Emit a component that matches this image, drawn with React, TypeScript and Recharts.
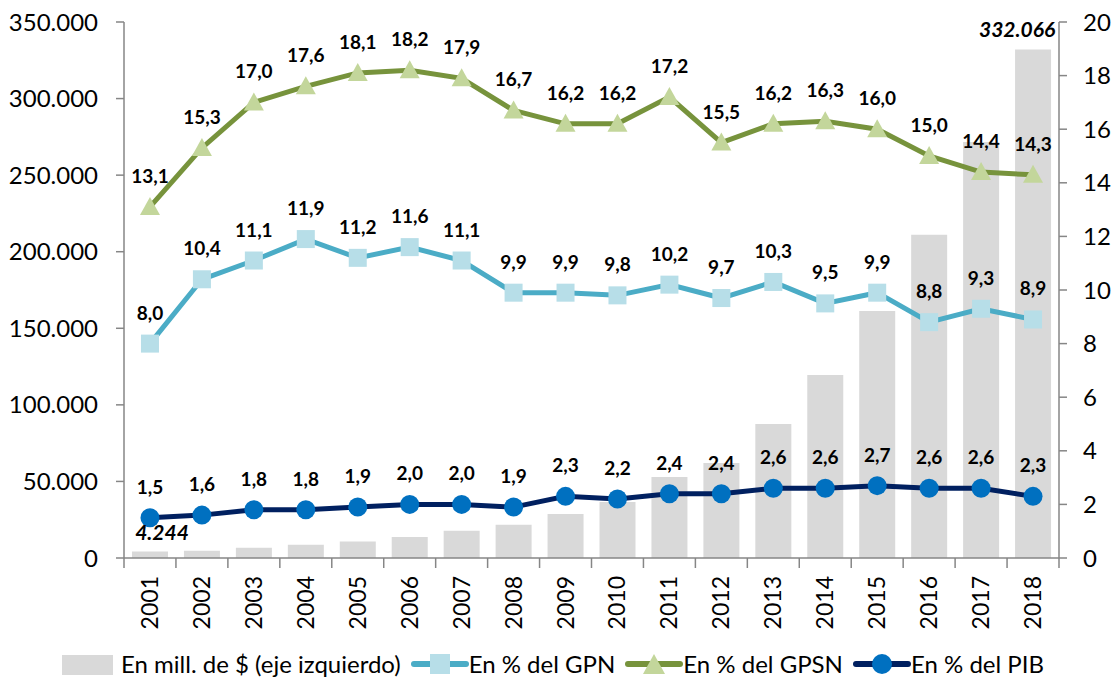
import { Bar, ComposedChart, LabelList, Line, XAxis, YAxis } from "recharts";

const anios = [
  "2001", "2002", "2003", "2004", "2005", "2006", "2007", "2008", "2009",
  "2010", "2011", "2012", "2013", "2014", "2015", "2016", "2017", "2018",
];
const enMillones = [
  4244, 4800, 6700, 8700, 10700, 13700, 17800, 21700, 28700,
  36600, 52900, 62000, 87500, 119500, 161300, 211000, 271600, 332066,
];
const enGPN = [8.0, 10.4, 11.1, 11.9, 11.2, 11.6, 11.1, 9.9, 9.9, 9.8, 10.2, 9.7, 10.3, 9.5, 9.9, 8.8, 9.3, 8.9];
const enGPSN = [13.1, 15.3, 17.0, 17.6, 18.1, 18.2, 17.9, 16.7, 16.2, 16.2, 17.2, 15.5, 16.2, 16.3, 16.0, 15.0, 14.4, 14.3];
const enPIB = [1.5, 1.6, 1.8, 1.8, 1.9, 2.0, 2.0, 1.9, 2.3, 2.2, 2.4, 2.4, 2.6, 2.6, 2.7, 2.6, 2.6, 2.3];
const ticksIzq = [0, 50000, 100000, 150000, 200000, 250000, 300000, 350000];
const ticksDer = [0, 2, 4, 6, 8, 10, 12, 14, 16, 18, 20];

const datos = anios.map((anio, i) => ({
  anio,
  millones: enMillones[i],
  gpn: enGPN[i],
  gpsn: enGPSN[i],
  pib: enPIB[i],
}));

const ANCHO = 1115;
const ALTO = 681;
const MARGEN = { top: 22, right: 6, left: 4, bottom: 63 };
const ANCHO_EJE_IZQ = 120;
const ANCHO_EJE_DER = 50;
const ANCHO_BANDA = (ANCHO - MARGEN.left - MARGEN.right - ANCHO_EJE_IZQ - ANCHO_EJE_DER) / anios.length;

const FUENTE = "Lato, 'Open Sans', sans-serif";
const GRIS_EJE = "#868686";

const C = {
  barra: "#D9D9D9",
  gpn: "#4BACC6",
  gpnMarca: "#B7DEE8",
  gpsn: "#77933C",
  gpsnMarca: "#C3D69B",
  pib: "#002060",
  pibMarca: "#0070C0",
};

const miles = (v: number) => v.toLocaleString("de-DE");
const coma = (v: number) => v.toFixed(1).replace(".", ",");

function Cuadrado({ cx, cy }: any) {
  if (cx == null || cy == null) return null;
  return <rect x={cx - 9} y={cy - 9} width={18} height={18} fill={C.gpnMarca} />;
}

function Triangulo({ cx, cy }: any) {
  if (cx == null || cy == null) return null;
  return (
    <polygon
      points={`${cx},${cy - 10} ${cx + 10},${cy + 8} ${cx - 10},${cy + 8}`}
      fill={C.gpsnMarca}
    />
  );
}

function Circulo({ cx, cy }: any) {
  if (cx == null || cy == null) return null;
  return <circle cx={cx} cy={cy} r={9.5} fill={C.pibMarca} />;
}

function EtiquetaLinea(props: any) {
  const { x, y, value } = props;
  if (x == null || y == null) return null;
  return (
    <text x={x} y={y - 24} textAnchor="middle" fontFamily={FUENTE} fontSize={19} fontWeight="bold" fill="#000">
      {coma(value)}
    </text>
  );
}

function EtiquetaBarra(props: any) {
  const { x, y, width, value, index } = props;
  if (index !== 0 && index !== anios.length - 1) return null;
  const dx = index === 0 ? 12 : -16;
  return (
    <text
      x={x + width / 2 + dx}
      y={y - 12}
      textAnchor="middle"
      fontFamily={FUENTE}
      fontSize={21}
      fontWeight="bold"
      fontStyle="italic"
      fill="#000"
    >
      {miles(value)}
    </text>
  );
}

function TickAnio({ x, y, payload, index }: any) {
  const mitad = ANCHO_BANDA / 2;
  return (
    <g>
      <line x1={x - mitad} y1={y - 8} x2={x - mitad} y2={y + 2} stroke={GRIS_EJE} strokeWidth={1.5} />
      {index === anios.length - 1 && (
        <line x1={x + mitad} y1={y - 8} x2={x + mitad} y2={y + 2} stroke={GRIS_EJE} strokeWidth={1.5} />
      )}
      <text
        transform={`translate(${x + 8},${y + 10}) rotate(-90)`}
        textAnchor="end"
        fontFamily={FUENTE}
        fontSize={23}
        fill="#000"
      >
        {payload.value}
      </text>
    </g>
  );
}

function Leyenda() {
  const item = { display: "flex", alignItems: "center", marginRight: 10 };
  return (
    <div
      style={{
        position: "absolute",
        left: 0,
        top: 650,
        width: ANCHO,
        display: "flex",
        justifyContent: "center",
        fontFamily: FUENTE,
        fontSize: 24,
        lineHeight: "28px",
        color: "#000",
        whiteSpace: "nowrap",
      }}
    >
      <div style={item}>
        <svg width={54} height={28}>
          <rect x={1} y={5} width={51} height={20} fill={C.barra} />
        </svg>
        <span style={{ marginLeft: 6 }}>En mill. de $ (eje izquierdo)</span>
      </div>
      <div style={item}>
        <svg width={58} height={28}>
          <line x1={3} y1={14} x2={55} y2={14} stroke={C.gpn} strokeWidth={6} strokeLinecap="round" />
          <rect x={19} y={4} width={20} height={20} fill={C.gpnMarca} />
        </svg>
        <span>En % del GPN</span>
      </div>
      <div style={item}>
        <svg width={58} height={28}>
          <line x1={3} y1={14} x2={55} y2={14} stroke={C.gpsn} strokeWidth={6} strokeLinecap="round" />
          <polygon points="29,4 40,24 18,24" fill={C.gpsnMarca} />
        </svg>
        <span>En % del GPSN</span>
      </div>
      <div style={item}>
        <svg width={58} height={28}>
          <line x1={3} y1={14} x2={55} y2={14} stroke={C.pib} strokeWidth={6} strokeLinecap="round" />
          <circle cx={29} cy={14} r={10} fill={C.pibMarca} />
        </svg>
        <span>En % del PIB</span>
      </div>
    </div>
  );
}

export default function App() {
  return (
    <div style={{ position: "relative", width: ANCHO, height: ALTO, overflow: "hidden", background: "#fff" }}>
      <style>{"body{margin:0}"}</style>
      <ComposedChart width={ANCHO} height={ALTO} data={datos} margin={MARGEN}>
        <XAxis
          dataKey="anio"
          height={60}
          interval={0}
          tickLine={false}
          axisLine={{ stroke: GRIS_EJE, strokeWidth: 1.5 }}
          tick={<TickAnio />}
        />
        <YAxis
          yAxisId="izq"
          orientation="left"
          width={ANCHO_EJE_IZQ}
          domain={[0, 350000]}
          ticks={ticksIzq}
          interval={0}
          tickFormatter={miles}
          axisLine={{ stroke: GRIS_EJE, strokeWidth: 1.5 }}
          tickLine={{ stroke: GRIS_EJE, strokeWidth: 1.5 }}
          tickSize={8}
          tickMargin={18}
          tick={{ fill: "#000", fontSize: 24, fontFamily: FUENTE }}
        />
        <YAxis
          yAxisId="der"
          orientation="right"
          width={ANCHO_EJE_DER}
          domain={[0, 20]}
          ticks={ticksDer}
          interval={0}
          axisLine={{ stroke: GRIS_EJE, strokeWidth: 1.5 }}
          tickLine={{ stroke: GRIS_EJE, strokeWidth: 1.5 }}
          tickSize={8}
          tickMargin={16}
          tick={{ fill: "#000", fontSize: 24, fontFamily: FUENTE }}
        />
        <Bar yAxisId="izq" dataKey="millones" fill={C.barra} barSize={36} isAnimationActive={false}>
          <LabelList dataKey="millones" content={<EtiquetaBarra />} />
        </Bar>
        <Line
          yAxisId="der"
          dataKey="gpsn"
          stroke={C.gpsn}
          strokeWidth={5}
          dot={<Triangulo />}
          activeDot={false}
          isAnimationActive={false}
        >
          <LabelList dataKey="gpsn" content={<EtiquetaLinea />} />
        </Line>
        <Line
          yAxisId="der"
          dataKey="gpn"
          stroke={C.gpn}
          strokeWidth={5}
          dot={<Cuadrado />}
          activeDot={false}
          isAnimationActive={false}
        >
          <LabelList dataKey="gpn" content={<EtiquetaLinea />} />
        </Line>
        <Line
          yAxisId="der"
          dataKey="pib"
          stroke={C.pib}
          strokeWidth={5}
          dot={<Circulo />}
          activeDot={false}
          isAnimationActive={false}
        >
          <LabelList dataKey="pib" content={<EtiquetaLinea />} />
        </Line>
      </ComposedChart>
      <Leyenda />
    </div>
  );
}
